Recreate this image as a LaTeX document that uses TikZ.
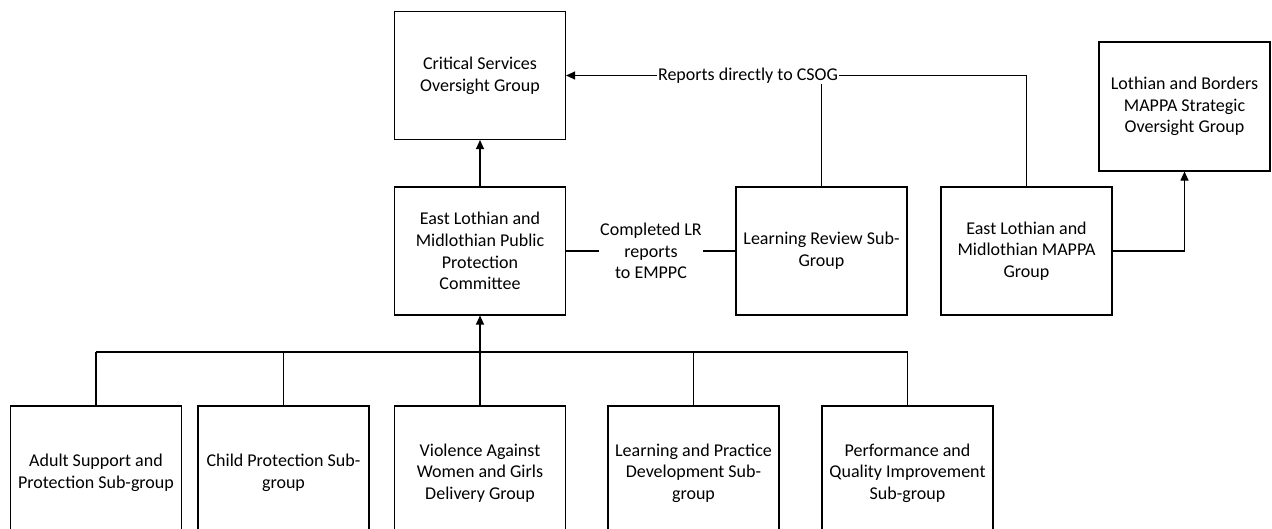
\documentclass[tikz,border=0pt]{standalone}
\usepackage{fontspec}
\setmainfont{Carlito}
\usetikzlibrary{arrows.meta,positioning,calc}

\begin{document}
\begin{tikzpicture}[
    x=1pt, y=-1pt,
    box/.style={rectangle, draw, line width=1.1pt, minimum width=171pt, minimum height=128pt, align=center, font=\fontsize{18}{21.7}\selectfont, inner sep=2pt},
    lowbox/.style={box, minimum height=134pt},
    lbl/.style={fill=white, align=center, font=\fontsize{18}{21.7}\selectfont, inner sep=1pt},
    arrow/.style={-{Triangle[length=9pt,width=8pt]}, line width=1.1pt},
    link/.style={line width=1.1pt}
]
\useasboundingbox (0,0) rectangle (1272,528);

% Oversight level
\node[box] (csog) at (480, 75.5) {Critical Services\\Oversight Group};
\node[box, minimum height=129pt] (lbsog) at (1184.5, 106.5) {Lothian and Borders\\MAPPA Strategic\\Oversight Group};

% Committee level
\node[box] (emppc) at (480, 251) {East Lothian and\\Midlothian Public\\Protection\\Committee};
\node[box] (lr) at (821.5, 251) {Learning Review Sub-\\Group};
\node[box] (mappa) at (1026.5, 251) {East Lothian and\\Midlothian MAPPA\\Group};

% Sub-groups
\node[lowbox] (b1) at (96, 473) {Adult Support and\\Protection Sub-group};
\node[lowbox] (b2) at (283.5, 473) {Child Protection Sub-\\group};
\node[lowbox] (b3) at (480, 473) {Violence Against\\Women and Girls\\Delivery Group};
\node[lowbox] (b4) at (693.5, 473) {Learning and Practice\\Development Sub-\\group};
\node[lowbox] (b5) at (907.5, 473) {Performance and\\Quality Improvement\\Sub-group};

% Labels on connectors
\node[lbl] (rep) at (748, 75.5) {Reports directly to CSOG};
\node[lbl] (comp) at (651, 251) {Completed LR\\reports\\to EMPPC};

\draw[arrow] (emppc.north) -- (csog.south);
\draw[link] (mappa.north) |- (rep.east);
\draw[arrow] (rep.west) -- (csog.east);
\draw[link] (lr.north) -- (lr.north |- rep.south);
\draw[link] (emppc.east) -- (comp.west);
\draw[link] (comp.east) -- (lr.west);
\draw[arrow] (mappa.east) -| (lbsog.south);

% Bus to the committee
\coordinate (bus) at (480, 352);
\foreach \i in {1,...,5} {
    \draw[link] (b\i.north) -- (b\i.north |- bus);
}
\draw[link] (b1.north |- bus) -- (b5.north |- bus);
\draw[arrow] (b3.north) -- (emppc.south);
\end{tikzpicture}
\end{document}
